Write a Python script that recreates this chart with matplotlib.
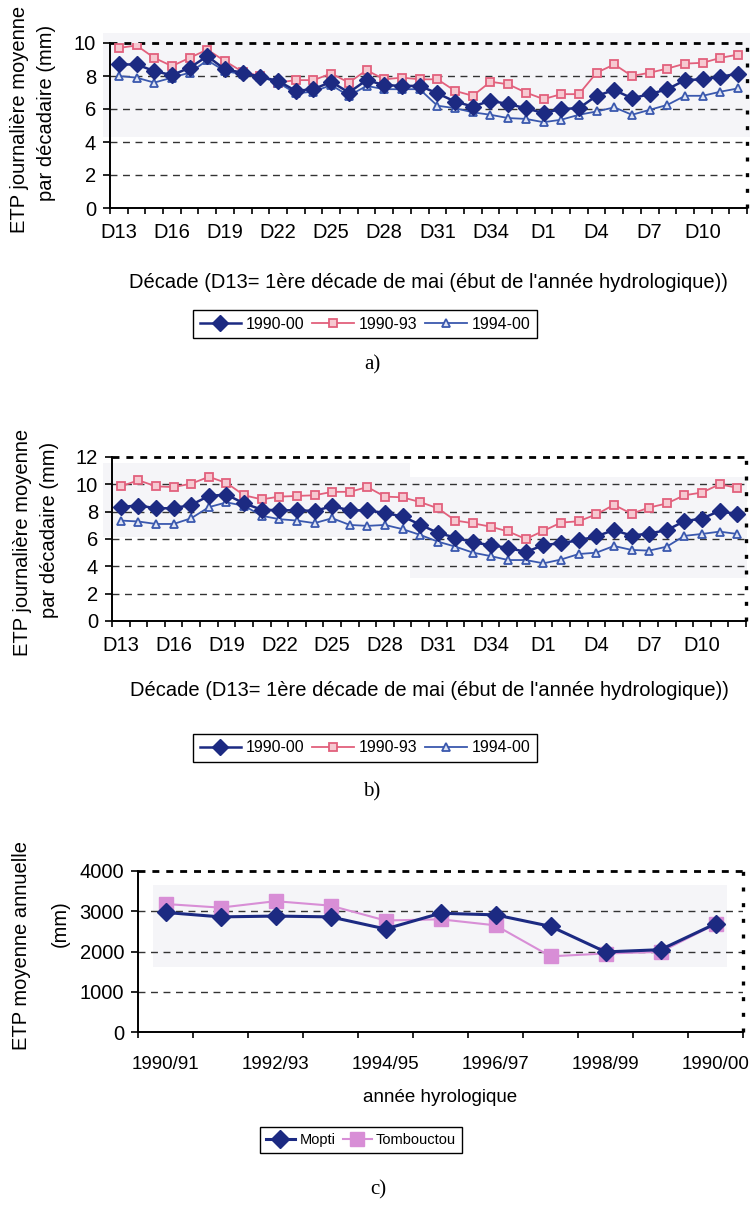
import matplotlib
matplotlib.use('Agg')
import matplotlib.pyplot as plt
import numpy as np
from matplotlib.transforms import Bbox, TransformedBbox
from matplotlib.patches import Rectangle

plt.rcParams['font.family'] = ['Liberation Sans', 'DejaVu Sans']

# ---------------- data ----------------
decades = [f'D{i}' for i in range(13, 37)] + [f'D{i}' for i in range(1, 13)]

a_1990_00 = [8.7, 8.7, 8.3, 8.05, 8.5, 9.2, 8.4, 8.2, 7.95, 7.7, 7.1, 7.2, 7.65, 7.0, 7.75, 7.45,
             7.4, 7.4, 6.95, 6.45, 6.15, 6.5, 6.3, 6.05, 5.75, 6.0, 6.05, 6.8, 7.15, 6.65, 6.9, 7.2,
             7.75, 7.8, 7.95, 8.15]
a_1990_93 = [9.7, 9.85, 9.1, 8.6, 9.1, 9.6, 8.9, 8.25, 8.0, 7.6, 7.75, 7.75, 8.15, 7.6, 8.35, 7.8,
             7.9, 7.8, 7.8, 7.1, 6.8, 7.65, 7.5, 7.0, 6.6, 6.9, 6.9, 8.2, 8.7, 8.0, 8.2, 8.45,
             8.75, 8.8, 9.1, 9.3]
a_1994_00 = [8.0, 7.9, 7.6, 7.9, 8.2, 8.95, 8.3, 8.1, 7.95, 7.6, 6.95, 7.05, 7.45, 6.8, 7.4, 7.2,
             7.2, 7.2, 6.2, 6.05, 5.8, 5.65, 5.45, 5.4, 5.2, 5.35, 5.65, 5.85, 6.1, 5.65, 5.95, 6.25,
             6.8, 6.8, 7.05, 7.25]

b_1990_00 = [8.35, 8.45, 8.25, 8.25, 8.5, 9.15, 9.25, 8.6, 8.15, 8.1, 8.1, 8.05, 8.4, 8.1, 8.1, 7.9,
             7.65, 7.05, 6.45, 6.1, 5.75, 5.55, 5.35, 5.05, 5.55, 5.7, 5.9, 6.2, 6.65, 6.25, 6.4, 6.65,
             7.3, 7.5, 8.05, 7.8]
b_1990_93 = [9.85, 10.3, 9.85, 9.8, 10.05, 10.55, 10.1, 9.2, 8.9, 9.1, 9.15, 9.2, 9.45, 9.45, 9.8, 9.1,
             9.05, 8.7, 8.25, 7.35, 7.15, 6.9, 6.55, 6.0, 6.6, 7.2, 7.3, 7.8, 8.5, 7.85, 8.3, 8.6,
             9.2, 9.4, 10.0, 9.75]
b_1994_00 = [7.35, 7.28, 7.1, 7.1, 7.52, 8.33, 8.68, 8.43, 7.7, 7.45, 7.35, 7.16, 7.52, 7.03, 6.96, 7.03,
             6.72, 6.3, 5.81, 5.44, 5.0, 4.75, 4.46, 4.46, 4.22, 4.5, 4.9, 5.0, 5.49, 5.2, 5.15, 5.44,
             6.23, 6.37, 6.54, 6.37]

years = ['1990/91', '1991/92', '1992/93', '1993/94', '1994/95', '1995/96', '1996/97',
         '1997/98', '1998/99', '1999/00', '1990/00']
mopti = [2970, 2860, 2880, 2860, 2560, 2950, 2910, 2625, 1990, 2045, 2690]
tombouctou = [3180, 3090, 3250, 3140, 2770, 2800, 2650, 1880, 1950, 1990, 2680]

series_names = ['1990-00', '1990-93', '1994-00']
station_names = ['Mopti', 'Tombouctou']
xlabel_ab = "Décade (D13= 1ère décade de mai (ébut de l'année hydrologique))"
xlabel_c = "année hyrologique"

# ---------------- layout ----------------
W, H = 753, 1225
fig = plt.figure(figsize=(W / 100, H / 100), dpi=100)


def rect(l, r, t, b):
    return [l / W, 1 - b / H, (r - l) / W, (b - t) / H]


def fy(y):
    return 1 - y / H


NAVY = '#1c2a82'
PINK = '#e2607c'
BLUE = '#3a58ae'
LILAC = '#d88ed6'

# faint scan shading behind plot areas
for (x0, x1, y0, y1) in [(103, 750, 33, 137), (103, 410, 463, 537), (410, 747, 477, 578),
                         (153, 727, 885, 967)]:
    fig.patches.append(Rectangle((x0 / W, fy(y1)), (x1 - x0) / W, (y1 - y0) / H,
                                 transform=fig.transFigure, facecolor='#f5f5f8',
                                 edgecolor='none', zorder=-10))


def style(ax, n, ymax, ystep, labels, lab_step, xpad):
    ax.set_facecolor('none')
    ax.set_xlim(-0.5, n - 0.5)
    ax.set_ylim(0, ymax)
    yt = np.arange(0, ymax + ystep / 2, ystep)
    ax.set_yticks(yt)
    ax.set_yticklabels([f'{int(v)}' for v in yt])
    for v in yt[1:-1]:
        ax.axhline(v, color='#333333', lw=1.0, ls=(0, (5, 4)), zorder=1)
    # top border: bold dashes ; right border: bold dots
    ax.axhline(ymax, color='black', lw=2.0, ls=(0, (2.5, 2.5)), zorder=1, clip_on=False)
    ax.axvline(n - 0.5, color='black', lw=2.4, ls=(0, (1.2, 3.5)), zorder=1, clip_on=False)
    ax.spines['top'].set_visible(False)
    ax.spines['right'].set_visible(False)
    for s in ['left', 'bottom']:
        ax.spines[s].set_color('black')
        ax.spines[s].set_linewidth(1.4)
    ax.set_xticks(range(0, n, lab_step))
    ax.set_xticklabels(labels[::lab_step])
    ax.set_xticks(np.arange(-0.5, n, 1), minor=True)
    ax.tick_params(axis='x', which='major', length=0, pad=xpad, labelsize=14.5)
    ax.tick_params(axis='x', which='minor', length=4, width=1.2, direction='out')
    ax.tick_params(axis='y', length=5, width=1.2, direction='out', pad=5, labelsize=14.5)


def ylab(text, x, y, va, clip_y=None):
    t = fig.text(x / W, fy(y), text, rotation=90, ha='center', va=va, fontsize=14.5)
    if clip_y is not None:
        t.set_clip_box(TransformedBbox(Bbox([[0, 0], [1, fy(clip_y)]]), fig.transFigure))
        t.set_clip_on(True)


def add_legend(handles, x, y, ncol, fs, hl):
    leg = fig.legend(handles=handles, loc='center', bbox_to_anchor=(x / W, fy(y)),
                     ncol=ncol, fontsize=fs, frameon=True, fancybox=False, edgecolor='black',
                     framealpha=1, borderpad=0.4, handlelength=hl, handletextpad=0.3,
                     columnspacing=0.5, borderaxespad=0)
    leg.get_frame().set_linewidth(1.0)


def panel_ab(ax_r, d1, d2, d3, ymax, leg_y, xl_y, tag, tag_y):
    ax = fig.add_axes(rect(*ax_r))
    x = np.arange(len(decades))
    l1, = ax.plot(x, d1, color=NAVY, lw=1.8, marker='D', ms=8, mfc=NAVY, mec=NAVY,
                  label=series_names[0], zorder=4)
    l2, = ax.plot(x, d2, color=PINK, lw=1.3, marker='s', ms=6, mfc='#f6c9d1', mec=PINK, mew=1.3,
                  label=series_names[1], zorder=3)
    l3, = ax.plot(x, d3, color=BLUE, lw=1.3, marker='^', ms=6, mfc='#dfe4f4', mec=BLUE, mew=1.3,
                  label=series_names[2], zorder=3)
    style(ax, len(decades), ymax, 2, decades, 3, 11)
    fig.text((ax_r[0] + ax_r[1]) / 2 / W, fy(xl_y), xlabel_ab, ha='center', va='center',
             fontsize=14.5)
    add_legend([l1, l2, l3], 365, leg_y, 3, 11.5, 2.6)
    fig.text(372 / W, fy(tag_y), tag, ha='center', va='center', fontsize=15,
             family=['Liberation Serif', 'DejaVu Serif'])
    return ax


panel_ab((110, 747, 43, 208), a_1990_00, a_1990_93, a_1994_00, 10, 324, 282, 'a)', 365)
ylab('ETP journalière moyenne', 20, 233, 'bottom', clip_y=7)
ylab('par décadaire (mm)', 47, 113, 'center')

panel_ab((112, 746, 457, 621), b_1990_00, b_1990_93, b_1994_00, 12, 748, 690, 'b)', 792)
ylab('ETP journalière moyenne', 23, 656, 'bottom', clip_y=412)
ylab('par décadaire (mm)', 50, 530, 'center')

# panel c
axc = fig.add_axes(rect(138, 743, 871, 1032))
xc = np.arange(len(years))
m1, = axc.plot(xc, mopti, color=NAVY, lw=2.2, marker='D', ms=9, mfc=NAVY, mec=NAVY,
               label=station_names[0], zorder=4)
m2, = axc.plot(xc, tombouctou, color=LILAC, lw=1.5, marker='s', ms=10, mfc=LILAC, mec=LILAC,
               label=station_names[1], zorder=3)
style(axc, len(years), 4000, 1000, years, 2, 17)
axc.tick_params(axis='x', which='major', labelsize=13.5)
fig.text((138 + 743) / 2 / W, fy(1097), xlabel_c, ha='center', va='center', fontsize=13.5)
add_legend([m1, m2], 361, 1140, 2, 10.5, 2.0)
fig.text(378 / W, fy(1190), 'c)', ha='center', va='center', fontsize=15,
         family=['Liberation Serif', 'DejaVu Serif'])
ylab('ETP moyenne annuelle', 22, 1050, 'bottom', clip_y=843)
ylab('(mm)', 60, 924, 'center')

fig.savefig('out.png', dpi=100, facecolor='white')
